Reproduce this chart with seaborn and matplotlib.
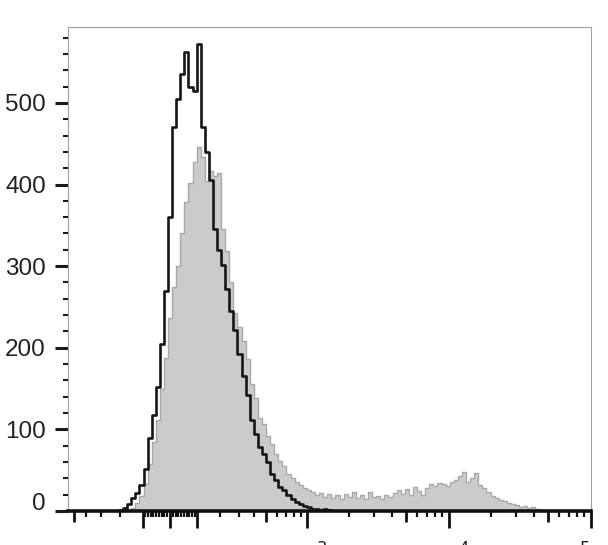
import numpy as np
import pandas as pd
import seaborn as sns
import matplotlib
matplotlib.use("Agg")
import matplotlib.pyplot as plt
from matplotlib.transforms import ScaledTranslation

# display channels (256 channel logicle-like axis), one bin every 2 channels
channel = np.arange(24, 234, 2)

# grey filled histogram (control)
control_counts = [
    0, 0, 0, 1, 4, 10, 18, 33, 58, 85,
    112, 150, 188, 236, 275, 300, 340, 378, 402, 428,
    446, 434, 404, 416, 410, 414, 345, 318, 280, 243,
    225, 208, 186, 156, 138, 114, 106, 92, 82, 70,
    61, 55, 45, 41, 36, 32, 28, 26, 23, 20,
    22, 17, 21, 16, 20, 15, 21, 17, 23, 16,
    20, 15, 23, 17, 18, 15, 19, 17, 22, 26,
    21, 27, 20, 29, 25, 19, 28, 33, 31, 34,
    33, 31, 35, 38, 43, 48, 36, 41, 46, 32,
    28, 23, 18, 16, 13, 12, 10, 9, 7, 5,
    6, 4, 5, 2, 0,
]

# black outlined histogram (stained)
stained_counts = [
    0, 1, 4, 9, 16, 22, 32, 52, 90, 118,
    152, 205, 270, 360, 470, 505, 535, 562, 520, 515,
    572, 470, 440, 405, 345, 320, 302, 272, 245, 222,
    192, 166, 142, 112, 94, 78, 70, 60, 45, 38,
    30, 26, 20, 15, 11, 9, 6, 5, 3, 3,
    1, 2, 1, 0, 0, 0, 0, 0, 0, 0,
    0, 0, 0, 0, 0, 0, 0, 0, 0, 0,
    0, 0, 0, 0, 0, 0, 0, 0, 0, 0,
    0, 0, 0, 0, 0, 0, 0, 0, 0, 0,
    0, 0, 0, 0, 0, 0, 0, 0, 0, 0,
    0, 0, 0, 0, 0,
]

y_major = [0, 100, 200, 300, 400, 500]
y_minor = list(range(20, 600, 20))

x_major = [-100, 0, 100, 1e3, 1e4, 1e5]
x_major_labels = ["", "", "", "$10^3$", "$10^4$", "$10^5$"]
x_mid = [-500, 500, 5e3, 5e4]
x_minor = ([-400, -300, -200]
           + [-v for v in range(10, 100, 10)] + list(range(10, 100, 10))
           + [200, 300, 400, 600, 700, 800, 900]
           + [2e3, 3e3, 4e3, 6e3, 7e3, 8e3, 9e3]
           + [2e4, 3e4, 4e4, 6e4, 7e4, 8e4, 9e4])

# logicle-ish scale: channel of a fluorescence value
CH0 = 50.0
CH_PER_DECADE = 69.64
LIN_WIDTH = 220.0


def to_channel(v):
    return CH0 + CH_PER_DECADE * np.arcsinh(np.asarray(v, dtype=float) / LIN_WIDTH) / np.log(10)


df = pd.DataFrame({"channel": channel,
                   "control": control_counts,
                   "stained": stained_counts})

sns.set_theme(style="white")
plt.rcParams["font.family"] = ["Liberation Sans", "DejaVu Sans"]

fig, ax = plt.subplots(figsize=(6.08, 5.45), dpi=100)
fig.subplots_adjust(left=68 / 608, right=591 / 608, bottom=34 / 545, top=518 / 545)

sns.histplot(data=df, x="channel", weights="control", binwidth=2,
             binrange=(channel[0] - 1, channel[-1] + 1),
             element="step", fill=True, color="#cbcbcb",
             edgecolor="#a9a9a9", linewidth=1.0, alpha=1, ax=ax)
sns.histplot(data=df, x="channel", weights="stained", binwidth=2,
             binrange=(channel[0] - 1, channel[-1] + 1),
             element="step", fill=False, color="#161616",
             linewidth=1.9, alpha=1, ax=ax)

ax.set_xlim(0, 256.2)
ax.set_ylim(0, 593)
ax.set_xlabel("")
ax.set_ylabel("")

# x ticks: long majors + medium (5x) + short minors
ax.set_xticks(to_channel(x_major + x_mid))
ax.set_xticklabels(x_major_labels + [""] * len(x_mid))
ax.set_xticks(to_channel(x_minor), minor=True)

ax.set_yticks(y_major)
ax.set_yticklabels([str(v) for v in y_major])
ax.set_yticks(y_minor, minor=True)

ax.tick_params(which="both", bottom=True, left=True, direction="out")
# decade labels fall mostly below the bottom edge, as in the source image
ax.tick_params(axis="x", which="major", length=12.2, width=2.0,
               color="#111111", pad=11.0, labelsize=17, labelcolor="#222222")
ax.tick_params(axis="x", which="minor", length=4.3, width=1.6, color="#111111")
ax.tick_params(axis="y", which="major", length=9.4, width=2.2,
               color="#1a1a1a", pad=6.5, labelsize=17.5, labelcolor="#222222")
ax.tick_params(axis="y", which="minor", length=3.6, width=1.5, color="#1a1a1a")

for t in ax.xaxis.get_major_ticks()[len(x_major):]:
    t.tick1line.set_markersize(8.0)
ax.get_xticklabels()[5].set_horizontalalignment("right")

# "0" sits a little above its tick in the reference
zero_lbl = ax.get_yticklabels()[0]
zero_lbl.set_transform(zero_lbl.get_transform()
                       + ScaledTranslation(0, 7 / 72, fig.dpi_scale_trans))

for side in ["top", "right", "left"]:
    ax.spines[side].set_color("#a0a0a0")
    ax.spines[side].set_linewidth(0.8)
ax.spines["bottom"].set_color("#111111")
ax.spines["bottom"].set_linewidth(2.6)

fig.savefig("out.png", dpi=100)
